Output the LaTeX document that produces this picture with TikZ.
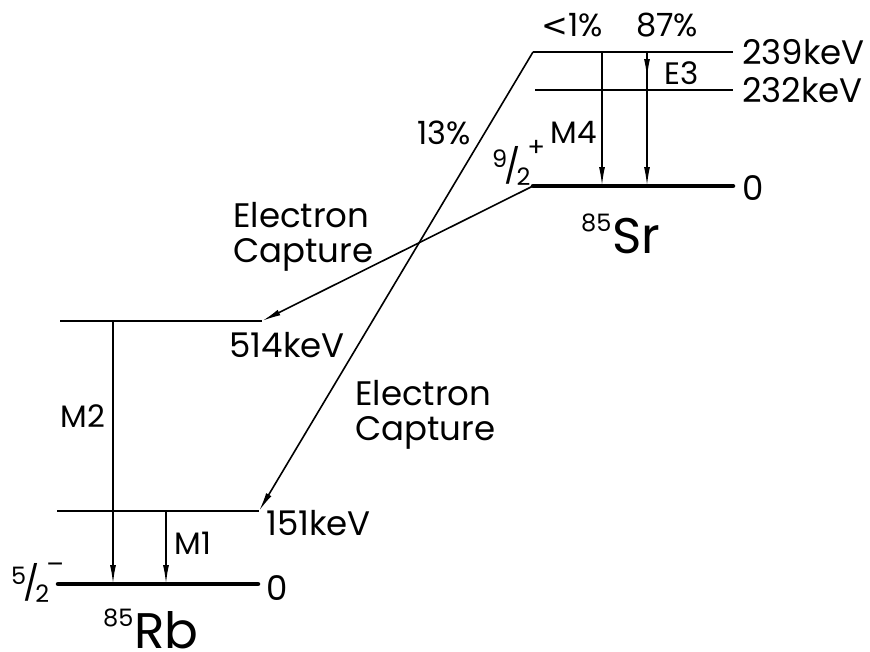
\documentclass[tikz,border=0pt]{standalone}
\usepackage{fontspec}
\setmainfont{Poppins}
\newfontfamily\symfont{DejaVu Sans}
\usetikzlibrary{arrows.meta, positioning, calc}
% spin-parity label: small numerator / denominator with raised sign
\newcommand{\spinfrac}[3]{{\fontsize{24}{24}\selectfont\raisebox{11pt}{#1}}\kern-3pt{\fontsize{34}{34}\selectfont/}\kern-4pt{\fontsize{24}{24}\selectfont\raisebox{-7pt}{#2}}\kern-3pt{\fontsize{26}{26}\selectfont\raisebox{22pt}{#3}}}
\newcommand{\nuc}[2]{{\fontsize{24}{24}\selectfont\raisebox{22pt}{#1}}\kern1pt#2}

\begin{document}
\begin{tikzpicture}[
    x=1pt, y=-1pt,
    level/.style={line width=1.6pt},
    ground/.style={line width=4.5pt, line cap=round},
    arrow/.style={-{Latex[length=19pt,width=6pt]}, line width=1.6pt},
    lbl/.style={inner sep=0pt, font=\fontsize{34}{35}\selectfont},
    pct/.style={inner sep=0pt, font=\fontsize{32}{36}\selectfont},
    mult/.style={inner sep=0pt, font=\fontsize{31}{34}\selectfont},
    nucl/.style={inner sep=0pt, font=\fontsize{50}{56}\selectfont}
]
    \useasboundingbox (0,0) rectangle (870,651);

    % Sr levels
    \coordinate (srTopL) at (533,52);  \coordinate (srTopR) at (733,52);
    \coordinate (srMidL) at (535,90);  \coordinate (srMidR) at (733,90);
    \coordinate (srGndL) at (533,186); \coordinate (srGndR) at (733,186);
    \draw[level] (srTopL) -- (srTopR);
    \draw[level] (srMidL) -- (srMidR);
    \draw[ground] (srGndL) -- (srGndR);

    % Rb levels
    \coordinate (rbHiL) at (60,321);  \coordinate (rbHiR) at (262,321);
    \coordinate (rbLoL) at (57,511);  \coordinate (rbLoR) at (259,511);
    \coordinate (rbGndL) at (58,584); \coordinate (rbGndR) at (258,584);
    \draw[level] (rbHiL) -- (rbHiR);
    \draw[level] (rbLoL) -- (rbLoR);
    \draw[ground] (rbGndL) -- (rbGndR);

    % Level energies
    \node[lbl, right=9pt of srTopR] (e239) {239keV};
    \node[lbl, right=9pt of srMidR] (e232) {232keV};
    \node[lbl, right=9pt of srGndR, yshift=-2pt] (esr0) {0};
    \node[lbl] (e514) at (287,345) {514keV};
    \node[lbl, right=7pt of rbLoR, yshift=-12pt] (e151) {151keV};
    \node[lbl, right=8pt of rbGndR, yshift=-4pt] (erb0) {0};

    % Spins and nuclides
    \node[anchor=base west, inner sep=0pt] (spinsr) at (492,178) {\spinfrac{9}{2}{+}};
    \node[anchor=base west, inner sep=0pt] (spinrb) at (11,595) {\spinfrac{5}{2}{–}};
    \node[nucl, anchor=base west] (srname) at (581,253) {\nuc{85}{Sr}};
    \node[nucl, anchor=base west] (rbname) at (103,648) {\nuc{85}{Rb}};

    % Sr gamma transitions
    \coordinate (m4top) at (602,52);  \coordinate (m4bot) at (602,186);
    \coordinate (e3top) at (647,52);  \coordinate (e3mid) at (647,90);
    \coordinate (e3bot) at (647,186);
    \draw[arrow] (m4top) -- (m4bot);
    \draw[arrow, shorten >=12pt] (e3top) -- (e3mid);
    \draw[arrow] (e3top) -- (e3bot);
    \node[pct] (plt1) at (572,25) {{\symfont<}1\%};
    \node[pct] (p87) at (667,25) {87\%};
    \node[mult] (m4) at (574,132) {M4};
    \node[mult] (e3) at (682,73) {E3};

    % Rb gamma transitions
    \coordinate (m2top) at (113,321); \coordinate (m2bot) at (113,584);
    \coordinate (m1top) at (166,511); \coordinate (m1bot) at (166,584);
    \draw[arrow] (m2top) -- (m2bot);
    \draw[arrow] (m1top) -- (m1bot);
    \node[mult] (m2) at (83,416) {M2};
    \node[mult] (m1) at (193,543) {M1};

    % Electron capture branches
    \draw[arrow] (srGndL) -- (rbHiR);
    \draw[arrow] (srTopL) -- (rbLoR);
    \node[pct] (p13) at (444,133) {13\%};
    \node[lbl, align=left, anchor=north west] (ecup) at (233,202) {Electron\\Capture};
    \node[lbl, align=left, anchor=north west] (eclow) at (355,380) {Electron\\Capture};

\end{tikzpicture}
\end{document}
